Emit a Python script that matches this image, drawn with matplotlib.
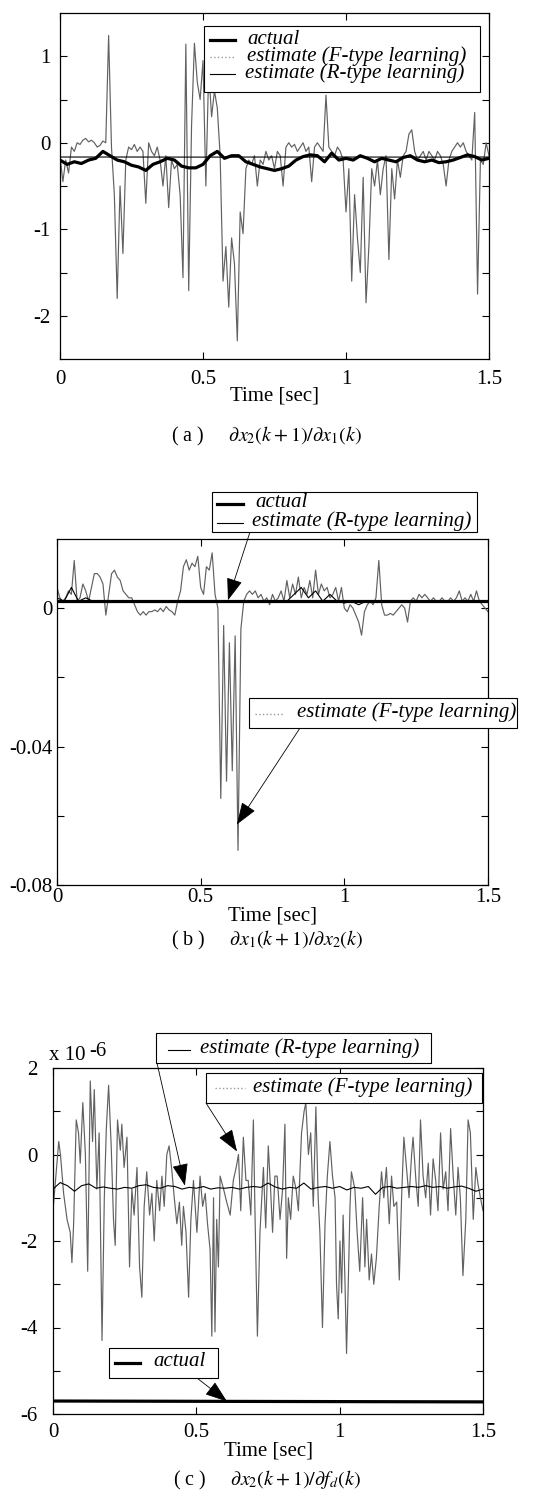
import numpy as np
import matplotlib
matplotlib.use('Agg')
import matplotlib.pyplot as plt
from matplotlib.patches import Rectangle
from matplotlib.lines import Line2D

plt.rcParams['font.family'] = 'Liberation Serif'
plt.rcParams['mathtext.fontset'] = 'stix'
plt.rcParams['axes.unicode_minus'] = False

# ---------------- datos ----------------
# (a) dx2(k+1)/dx1(k), muestreo cada 0.01 s
a_f = [-0.15, -0.45, -0.2, -0.35, -0.05, -0.1, 0.0, -0.02, 0.03, 0.05,
       0.01, 0.03, 0.0, -0.05, -0.03, 0.02, 0.0, 1.24, -0.05, -0.6,
       -1.8, -0.5, -1.28, -0.2, -0.05, -0.08, -0.02, -0.1, -0.05, -0.1,
       -0.7, 0.0, -0.1, -0.15, -0.05, -0.2, -0.5, -0.15, -0.75, -0.2,
       -0.3, -0.25, -0.6, -1.56, 1.14, -1.71, 0.2, 1.15, 0.7, 0.5,
       0.95, -0.5, 0.85, 0.3, 0.6, 0.4, -0.15, -1.6, -1.2, -1.9,
       -1.1, -1.4, -2.29, -0.8, -1.05, -0.3, -0.2, -0.25, -0.15, -0.5,
       -0.2, -0.25, -0.1, -0.2, -0.15, -0.3, -0.1, -0.15, -0.5, -0.05,
       0.0, -0.05, -0.02, -0.1, -0.05, 0.0, -0.1, -0.05, -0.45, -0.05,
       0.0, -0.05, -0.1, 0.55, -0.05, -0.1, -0.15, -0.05, -0.1, -0.2,
       -0.8, -0.3, -1.6, -0.6, -1.1, -1.5, -0.4, -1.85, -1.2, -0.3,
       -0.5, -0.2, -0.6, -0.3, -0.15, -1.35, -0.3, -0.65, -0.2, -0.4,
       -0.15, -0.1, 0.1, 0.15, -0.1, -0.2, -0.15, -0.1, -0.2, -0.1,
       -0.15, -0.2, -0.1, -0.15, -0.25, -0.5, -0.2, -0.1, -0.05, 0.0,
       -0.05, 0.0, -0.1, -0.15, -0.2, 0.35, -1.75, -0.2, -0.25, 0.0,
       -0.15]
# cada 0.025 s
a_real = [-0.2, -0.25, -0.22, -0.24, -0.2, -0.18, -0.1, -0.15, -0.2, -0.22,
          -0.26, -0.28, -0.32, -0.25, -0.22, -0.18, -0.2, -0.27, -0.29, -0.29,
          -0.25, -0.15, -0.1, -0.18, -0.15, -0.15, -0.22, -0.25, -0.28, -0.3,
          -0.32, -0.3, -0.27, -0.2, -0.16, -0.14, -0.15, -0.22, -0.12, -0.2,
          -0.18, -0.2, -0.15, -0.18, -0.22, -0.18, -0.2, -0.22, -0.17, -0.15,
          -0.2, -0.22, -0.2, -0.23, -0.22, -0.2, -0.17, -0.14, -0.16, -0.2,
          -0.18]
a_r = [-0.165, -0.165, -0.166, -0.165, -0.165, -0.166, -0.165]

# (b) dx1(k+1)/dx2(k), cada 0.01 s
b_f = [0.006, 0.003, 0.002, 0.003, 0.005, 0.004, 0.0138, 0.002, 0.003, 0.007,
       0.005, 0.002, 0.006, 0.010, 0.010, 0.009, 0.007, -0.002, 0.004, 0.010,
       0.011, 0.009, 0.008, 0.005, 0.004, 0.003, 0.003, 0.001, -0.001, -0.002,
       -0.001, -0.002, -0.001, -0.001, -0.0005, -0.001, 0.0, -0.001, 0.0005, -0.0005,
       -0.001, -0.002, 0.002, 0.005, 0.012, 0.014, 0.011, 0.013, 0.012, 0.015,
       0.006, 0.004, 0.012, 0.011, 0.016, 0.004, 0.0, -0.055, -0.005, -0.05,
       -0.01, -0.047, -0.008, -0.07, -0.006, 0.002, 0.004, 0.005, 0.004, 0.005,
       0.003, 0.004, 0.002, 0.003, 0.001, 0.004, 0.002, 0.003, 0.005, 0.002,
       0.008, 0.003, 0.007, 0.004, 0.009, 0.003, 0.006, 0.004, 0.008, 0.003,
       0.011, 0.004, 0.007, 0.005, 0.006, 0.003, 0.004, 0.006, 0.002, 0.006,
       0.0, -0.001, 0.001, 0.0, -0.002, -0.004, -0.0078, -0.001, 0.001, 0.002,
       0.001, 0.003, 0.0138, 0.001, -0.002, -0.002, -0.0015, -0.002, -0.001, 0.0,
       0.001, 0.0, -0.004, 0.002, 0.003, 0.002, 0.004, 0.003, 0.004, 0.003,
       0.002, 0.003, 0.002, 0.002, 0.003, 0.002, 0.002, 0.003, 0.002, 0.003,
       0.005, 0.002, 0.003, 0.002, 0.004, 0.002, 0.005, 0.002, 0.001, 0.0,
       -0.001]
b_real = [0.0021, 0.0021]
# cada 0.025 s
b_r = [0.003, 0.002, 0.006, 0.002, 0.003, 0.002, 0.002, 0.002, 0.002, 0.002,
       0.002, 0.002, 0.002, 0.002, 0.002, 0.002, 0.002, 0.002, 0.002, 0.002,
       0.002, 0.002, 0.002, 0.002, 0.002, 0.002, 0.002, 0.002, 0.002, 0.002,
       0.002, 0.002, 0.002, 0.004, 0.006, 0.003, 0.005, 0.002, 0.004, 0.002,
       0.0015, 0.002, 0.001, 0.002, 0.002, 0.002, 0.002, 0.002, 0.002, 0.002,
       0.002, 0.002, 0.002, 0.002, 0.002, 0.002, 0.002, 0.002, 0.002, 0.002,
       0.002]

# (c) dx2(k+1)/dfd(k), en unidades de 1e-6
t_c = [0.0, 0.01, 0.02, 0.026, 0.037, 0.049, 0.06, 0.066, 0.072, 0.081,
       0.089, 0.095, 0.104, 0.113, 0.121, 0.13, 0.138, 0.144, 0.153, 0.161,
       0.171, 0.179, 0.186, 0.194, 0.203, 0.211, 0.217, 0.225, 0.235, 0.24,
       0.248, 0.258, 0.267, 0.275, 0.283, 0.293, 0.302, 0.31, 0.318, 0.327,
       0.337, 0.345, 0.353, 0.362, 0.372, 0.38, 0.388, 0.397, 0.405, 0.415,
       0.423, 0.432, 0.441, 0.449, 0.455, 0.464, 0.473, 0.481, 0.49, 0.502,
       0.513, 0.522, 0.531, 0.539, 0.548, 0.554, 0.56, 0.565, 0.571, 0.577,
       0.583, 0.595, 0.606, 0.618, 0.629, 0.639, 0.647, 0.655, 0.664, 0.673,
       0.681, 0.69, 0.699, 0.705, 0.713, 0.722, 0.734, 0.742, 0.751, 0.759,
       0.766, 0.774, 0.782, 0.792, 0.801, 0.809, 0.815, 0.821, 0.829, 0.838,
       0.848, 0.856, 0.867, 0.876, 0.882, 0.891, 0.899, 0.908, 0.917, 0.925,
       0.931, 0.94, 0.949, 0.957, 0.966, 0.975, 0.984, 0.989, 0.995, 1.001,
       1.007, 1.012, 1.018, 1.024, 1.03, 1.036, 1.041, 1.053, 1.061, 1.07,
       1.08, 1.088, 1.094, 1.103, 1.111, 1.119, 1.128, 1.138, 1.146, 1.154,
       1.163, 1.173, 1.181, 1.189, 1.199, 1.208, 1.216, 1.224, 1.233, 1.242,
       1.251, 1.256, 1.266, 1.274, 1.282, 1.291, 1.3, 1.309, 1.317, 1.326,
       1.335, 1.343, 1.352, 1.361, 1.37, 1.378, 1.387, 1.396, 1.405, 1.413,
       1.421, 1.43, 1.44, 1.448, 1.456, 1.466, 1.475, 1.483, 1.491, 1.5]
c_f = [-1.3, -0.5, 0.3, 0.0, -0.9, -1.5, -1.8, -2.5, -1.6, 0.8,
       0.5, -0.2, 1.2, 0.0, -2.7, 1.7, 0.3, 1.5, -0.8, 0.5,
       -4.3, -1.0, 0.6, 1.6, 0.2, -1.5, -2.1, 0.8, 0.1, 0.7,
       -0.3, 0.4, -2.6, -0.8, -1.4, -0.3, -2.6, -3.3, -1.2, -0.4,
       -1.4, -0.9, -2.0, -0.6, -1.3, -0.5, -1.2, 0.0, 0.2, -0.4,
       -1.0, -1.6, -1.1, -2.1, -1.2, -1.8, -3.3, -1.5, -0.6, -1.8,
       -0.5, -1.2, -0.9, -1.6, -2.2, -4.2, -1.0, -4.1, -1.5, -2.6,
       -0.5, -0.8, -1.1, -1.4, -0.6, -0.3, 0.0, -1.3, 0.4, -0.6,
       -0.6, -1.4, 0.8, -1.5, -4.2, -1.8, -0.3, -1.7, 0.2, -0.8,
       -1.8, -0.5, -0.5, -1.5, -0.8, 0.7, -2.4, -1.0, -1.5, -0.5,
       -0.8, -1.3, 0.5, 1.0, 1.2, 0.0, 0.5, -1.2, 1.1, -1.0,
       -1.8, -4.0, -1.6, -0.5, 0.3, -0.5, -1.0, -3.0, -3.8, -2.0,
       -3.2, -1.4, -2.8, -4.6, -3.0, -1.2, -0.4, -0.8, -1.8, -2.7,
       -1.0, -2.6, -1.5, -2.9, -2.3, -3.0, -2.4, -1.2, -0.4, -1.0,
       -0.3, -1.6, -0.5, -1.2, -1.1, -2.9, -1.0, 0.4, -0.3, -1.0,
       0.0, 0.4, -0.6, -1.2, 0.8, -0.5, -1.0, -0.2, -1.4, -0.1,
       -0.6, -1.3, 0.5, -0.8, -0.4, -1.3, 0.6, -0.5, -1.4, -0.3,
       -1.0, -2.8, -1.5, 0.8, 0.5, -1.5, -0.3, -0.7, -1.0, -1.3]
# cada 0.025 s
c_r = [-0.80, -0.65, -0.72, -0.85, -0.72, -0.68, -0.78, -0.75, -0.78, -0.80,
       -0.76, -0.78, -0.72, -0.70, -0.76, -0.78, -0.72, -0.74, -0.80, -0.76,
       -0.78, -0.74, -0.80, -0.77, -0.78, -0.76, -0.80, -0.76, -0.74, -0.76,
       -0.66, -0.75, -0.80, -0.76, -0.78, -0.66, -0.80, -0.76, -0.74, -0.78,
       -0.74, -0.82, -0.76, -0.78, -0.74, -0.92, -0.76, -0.74, -0.78, -0.76,
       -0.74, -0.76, -0.72, -0.76, -0.74, -0.78, -0.75, -0.73, -0.78, -0.85,
       -0.80]
c_real = [-5.70, -5.72]

marcas_x = [0, 0.5, 1, 1.5]
textos_x = ['0', '0.5', '1', '1.5']

# ---------------- figura ----------------
ANCHO, ALTO = 535, 1501
fig = plt.figure(figsize=(ANCHO / 100, ALTO / 100), dpi=100)

LETRA = 15      # numeros de los ejes
LETRA_LEY = 15  # cajas de leyenda


def fx(x):
    return x / ANCHO


def fy(y):
    return 1 - y / ALTO


def ejes(x0, y0, x1, y1):
    return fig.add_axes([fx(x0), fy(y1), fx(x1) - fx(x0), fy(y0) - fy(y1)])


def estilo(ax, ylim, marcas_y, textos_y, ypad, xpad, ylab):
    ax.set_xlim(0, 1.5)
    ax.set_ylim(*ylim)
    ax.set_xticks(marcas_x)
    ax.set_xticklabels(textos_x)
    ax.set_yticks(marcas_y)
    ax.set_yticklabels(textos_y)
    ax.tick_params(direction='in', top=True, right=True, length=5, width=0.8,
                   labelsize=LETRA)
    ax.tick_params(axis='y', pad=ypad)
    ax.tick_params(axis='x', pad=xpad)
    for s in ax.spines.values():
        s.set_linewidth(0.9)
    ax.set_xlabel('Time [sec]', fontsize=LETRA)
    ax.xaxis.set_label_coords(0.5, ylab)


def caja(x0, y0, x1, y1):
    fig.add_artist(Rectangle((fx(x0), fy(y1)), fx(x1) - fx(x0), fy(y0) - fy(y1),
                             transform=fig.transFigure, facecolor='white',
                             edgecolor='k', lw=0.8, zorder=5))


def muestra(x0, x1, y, **kw):
    fig.add_artist(Line2D([fx(x0), fx(x1)], [fy(y), fy(y)],
                          transform=fig.transFigure, zorder=6, **kw))


def rotulo(x, y, s):
    fig.text(fx(x), fy(y), s, ha='left', va='center', fontsize=LETRA_LEY,
             fontstyle='italic', zorder=6)


def flecha(ax, punto, x, y):
    ax.annotate('', xy=punto, xytext=(fx(x), fy(y)), textcoords='figure fraction',
                arrowprops=dict(arrowstyle='-|>,head_length=0.7,head_width=0.25',
                                mutation_scale=20, lw=0.6, color='k',
                                shrinkA=0, shrinkB=0),
                annotation_clip=False)


def pie(y, s):
    fig.text(fx(267), fy(y), s, ha='center', va='center', fontsize=14.5)


GRIS = dict(color='0.38', lw=0.85)
GRIS_LEY = dict(color='0.6', lw=1.0, ls=':')
GRUESA = dict(color='k', lw=2.3)
FINA = dict(color='k', lw=0.8)

t01 = np.linspace(0, 1.5, len(a_f))
t025 = np.linspace(0, 1.5, len(a_real))

# ---- (a) ----
ax1 = ejes(60, 13, 489, 359)
ax1.plot(t01, a_f, **GRIS)
ax1.plot(np.linspace(0, 1.5, len(a_r)), a_r, **FINA)
ax1.plot(t025, a_real, **GRUESA)
estilo(ax1, (-2.5, 1.5), [-2, -1.5, -1, -0.5, 0, 0.5, 1],
       ['-2', '', '-1', '', '0', '', '1'], 7, 8, -0.08)
caja(204, 26, 480, 92)
muestra(210, 235, 40, **GRUESA)
muestra(210, 235, 57, **GRIS_LEY)
muestra(210, 235, 74, **FINA)
rotulo(247, 39, 'actual')
rotulo(247, 56, 'estimate (F-type learning)')
rotulo(245, 73, 'estimate (R-type learning)')
pie(436, r'( a )     $\partial x_2(k+1)/\partial x_1(k)$')

# ---- (b) ----
ax2 = ejes(57, 539, 488, 885)
ax2.plot(np.linspace(0, 1.5, len(b_f)), b_f, **GRIS)
ax2.plot(np.linspace(0, 1.5, len(b_r)), b_r, **FINA)
ax2.plot(np.linspace(0, 1.5, len(b_real)), b_real, **GRUESA)
estilo(ax2, (-0.08, 0.02), [-0.08, -0.06, -0.04, -0.02, 0],
       ['-0.08', '', '-0.04', '', '0'], 3, 2, -0.062)
caja(212, 492, 477, 532)
muestra(217, 243, 504, **GRUESA)
muestra(217, 243, 523, **FINA)
rotulo(255, 502, 'actual')
rotulo(252, 521, 'estimate (R-type learning)')
flecha(ax2, (0.595, 0.0023), 250, 532)
caja(249, 698, 517, 728)
muestra(255, 284, 714, **GRIS_LEY)
rotulo(297, 712, 'estimate (F-type learning)')
flecha(ax2, (0.626, -0.0625), 300, 728)
pie(940, r'( b )     $\partial x_1(k+1)/\partial x_2(k)$')

# ---- (c) ----
ax3 = ejes(53, 1068, 483, 1414)
ax3.plot(t_c, c_f, **GRIS)
ax3.plot(np.linspace(0, 1.5, len(c_r)), c_r, **FINA)
ax3.plot(np.linspace(0, 1.5, len(c_real)), c_real, **GRUESA)
estilo(ax3, (-6, 2), [-6, -5, -4, -3, -2, -1, 0, 1, 2],
       ['-6', '', '-4', '', '-2', '', '0', '', '2'], 11, 6.5, -0.08)
fig.text(fx(49), fy(1055), 'x 10', ha='left', va='center', fontsize=LETRA)
fig.text(fx(89), fy(1051), '-6', ha='left', va='center', fontsize=LETRA)
caja(156, 1033, 431, 1063)
muestra(168, 190, 1050, **FINA)
rotulo(200, 1048, 'estimate (R-type learning)')
flecha(ax3, (0.46, -0.72), 157, 1063)
caja(206, 1073, 482, 1103)
muestra(215, 245, 1088, **GRIS_LEY)
rotulo(253, 1087, 'estimate (F-type learning)')
flecha(ax3, (0.642, 0.07), 206, 1103)
caja(109, 1348, 218, 1378)
muestra(115, 140, 1363, **GRUESA)
rotulo(153, 1362, 'actual')
flecha(ax3, (0.607, -5.71), 197, 1378)
pie(1480, r'( c )     $\partial x_2(k+1)/\partial f_d(k)$')

fig.savefig('out.png', dpi=100)
